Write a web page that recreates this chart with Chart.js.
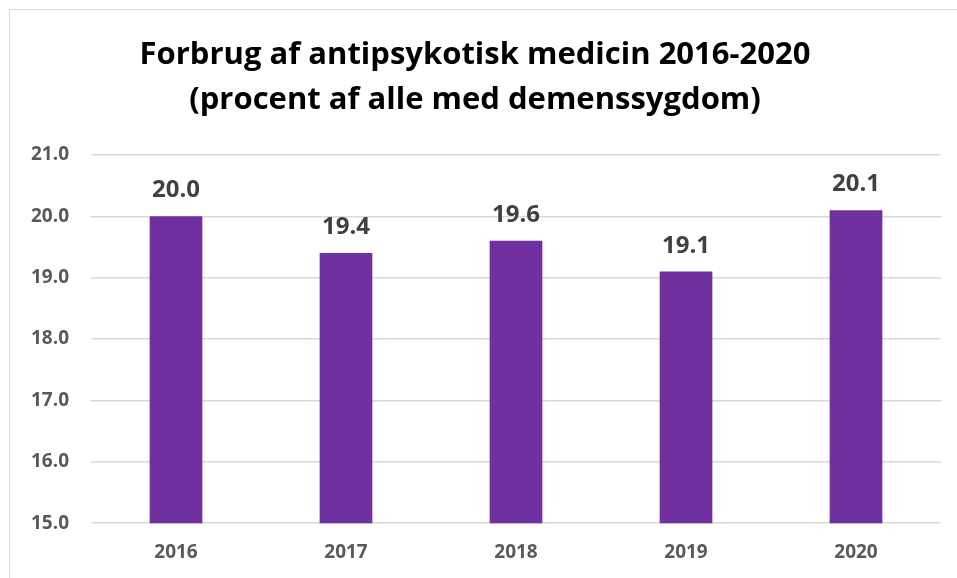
<!DOCTYPE html>
<html>
<head>
<meta charset="utf-8">
<script src="https://cdn.jsdelivr.net/npm/chart.js@4/dist/chart.umd.min.js"></script>
<style>
  html, body { margin: 0; padding: 0; background: #fff; overflow: hidden; }
  .frame { position: absolute; left: 9px; top: 9px; width: 960px; height: 580px; border: 1px solid #d9d9d9; }
  .wrap { position: absolute; left: 0; top: 0; width: 957px; height: 578px; }
</style>
</head>
<body>
<div class="frame"></div>
<div class="wrap"><canvas id="chart"></canvas></div>
<script>
// data
const years = ["2016", "2017", "2018", "2019", "2020"];
const values = [20.0, 19.4, 19.6, 19.1, 20.1];
const titleLines = ["Forbrug af antipsykotisk medicin 2016-2020", "(procent af alle med demenssygdom)"];

const fontName = "'Open Sans'";

// tal over søjlerne
const valueLabels = {
  id: "valueLabels",
  afterDatasetsDraw(chart) {
    const ctx = chart.ctx;
    const meta = chart.getDatasetMeta(0);
    ctx.save();
    ctx.font = "bold 24px " + fontName;
    ctx.fillStyle = "#404040";
    ctx.textAlign = "center";
    ctx.textBaseline = "alphabetic";
    meta.data.forEach(function (bar, i) {
      ctx.fillText(values[i].toFixed(1), bar.x, bar.y - 19);
    });
    ctx.restore();
  }
};

new Chart(document.getElementById("chart"), {
  type: "bar",
  data: {
    labels: years,
    datasets: [{
      data: values,
      backgroundColor: "#7030A0",
      borderWidth: 0,
      categoryPercentage: 1,
      barPercentage: 0.31
    }]
  },
  options: {
    responsive: true,
    maintainAspectRatio: false,
    animation: false,
    layout: { padding: { left: 9, right: 16, top: 0, bottom: 4 } },
    plugins: {
      legend: { display: false },
      tooltip: { enabled: false },
      title: {
        display: true,
        text: titleLines,
        color: "#000",
        font: { family: fontName, size: 31, weight: "bold", lineHeight: 1.45 },
        padding: { top: 33, bottom: 32 }
      }
    },
    scales: {
      x: {
        grid: { display: false },
        border: { display: false },
        ticks: {
          color: "#595959",
          font: { family: fontName, size: 19, weight: "bold" },
          padding: 10
        }
      },
      y: {
        min: 15,
        max: 21,
        grid: { color: "#d9d9d9", lineWidth: 1.5, drawTicks: false },
        border: { display: false },
        ticks: {
          stepSize: 1,
          color: "#595959",
          font: { family: fontName, size: 19, weight: "bold" },
          padding: 22,
          callback: function (v) { return v.toFixed(1); }
        }
      }
    }
  },
  plugins: [valueLabels]
});
</script>
</body>
</html>
